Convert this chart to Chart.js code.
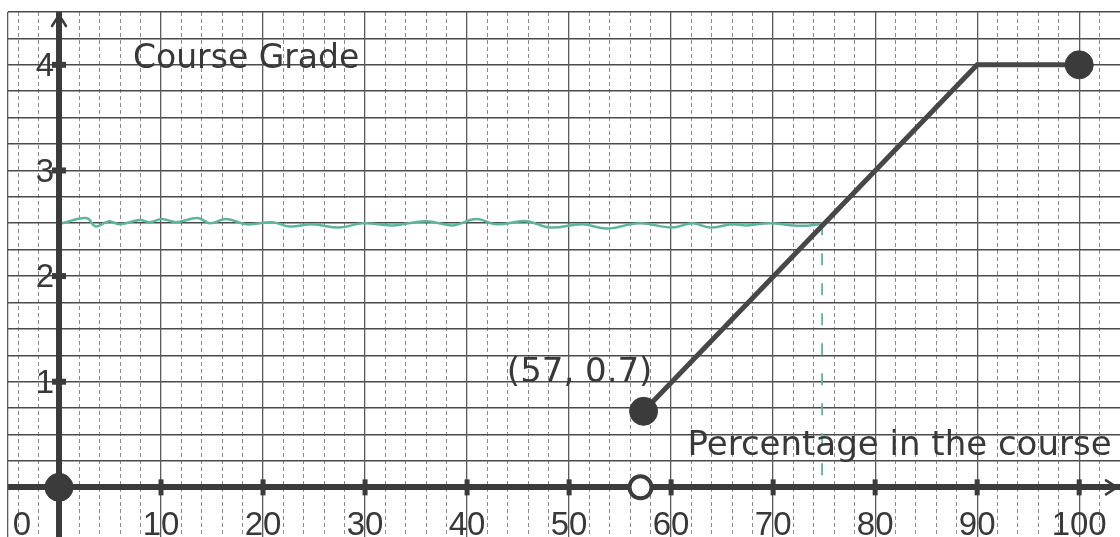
<!DOCTYPE html>
<html>
<head>
<meta charset="utf-8">
<script src="https://cdn.jsdelivr.net/npm/chart.js@4.4.0/dist/chart.umd.min.js"></script>
<style>
  html, body { margin: 0; padding: 0; background: #fff; }
  #wrap { width: 1120px; height: 537px; }
</style>
</head>
<body>
<div id="wrap"><canvas id="gradeChart"></canvas></div>
<script>
// --- data read from the graph paper ---
// hand drawn green line near grade 2.5
const greenX = [0.3, 2.7, 3.6, 4.9, 5.9, 7.9, 8.9, 10.1, 11.5, 13.6, 14.8, 16.4, 18.4, 20.9, 22.6, 24.8, 27.5, 29.8,
  32.7, 36.0, 38.6, 40.9, 42.9, 45.8, 48.1, 51.3, 53.7, 56.9, 60.1, 62.1, 63.8, 66.0, 67.4, 69.7, 71.9, 73.6, 74.9];
const greenY = [2.50, 2.55, 2.47, 2.52, 2.49, 2.53, 2.51, 2.54, 2.51, 2.55, 2.50, 2.54, 2.49, 2.51, 2.47, 2.49, 2.46, 2.50,
  2.48, 2.52, 2.48, 2.54, 2.49, 2.52, 2.46, 2.49, 2.45, 2.50, 2.46, 2.50, 2.46, 2.49, 2.48, 2.50, 2.48, 2.48, 2.50];
// green dashed drop line
const guideX = [74.8, 74.8];
const guideY = [2.5, -0.05];
// course grade function
const gradeX = [57.3, 90, 100];
const gradeY = [0.72, 4, 4];
const closedX = [0, 57.3, 100];
const closedY = [0, 0.72, 4];
const openX = [57];
const openY = [0];
// axis ticks and labels
const xTickValues = [10, 20, 30, 40, 50, 60, 70, 80, 90, 100];
const yTickValues = [1, 2, 3, 4];
const xLabelValues = [0, 10, 20, 30, 40, 50, 60, 70, 80, 90, 100];
const xTickLabels = ['0', '10', '20', '30', '40', '50', '60', '70', '80', '90', '100'];
const yTickLabels = ['1', '2', '3', '4'];
// paper grid
const xMajorGrid = [-5, 0, 10, 20, 30, 40, 50, 60, 70, 80, 90, 100];
const xMinorGrid = [-4, -2, 2, 4, 6, 8, 12, 14, 16, 18, 22, 24, 26, 28, 32, 34, 36, 38, 42, 44, 46, 48,
  52, 54, 56, 58, 62, 64, 66, 68, 72, 74, 76, 78, 82, 84, 86, 88, 92, 94, 96, 98, 102, 104];
const yGrid = [0, 0.25, 0.5, 0.75, 1, 1.25, 1.5, 1.75, 2, 2.25, 2.5, 2.75, 3, 3.25, 3.5, 3.75, 4, 4.25, 4.5];

const ink = '#3b3b3b';
const textInk = '#383838';
const green = '#5cb59d';

const pts = (xs, ys) => xs.map((v, i) => ({ x: v, y: ys[i] }));

// Desenha setas, rótulos e textos do papel
const paperDecor = {
  id: 'paperDecor',
  afterDraw(chart) {
    const { ctx, scales: { x, y } } = chart;
    ctx.save();

    // setas dos eixos
    ctx.strokeStyle = ink;
    ctx.lineWidth = 2.5;
    ctx.lineCap = 'round';
    const ax = x.getPixelForValue(0);
    const ay = y.getPixelForValue(0);
    const top = y.getPixelForValue(4.5);
    ctx.beginPath();
    ctx.moveTo(ax - 7, top + 14);
    ctx.lineTo(ax, top + 3);
    ctx.lineTo(ax + 7, top + 14);
    ctx.stroke();
    const right = chart.chartArea.right;
    ctx.beginPath();
    ctx.moveTo(right - 14, ay - 7);
    ctx.lineTo(right - 3, ay);
    ctx.lineTo(right - 14, ay + 7);
    ctx.stroke();

    // rótulos do eixo x
    ctx.fillStyle = textInk;
    ctx.font = '33px "Liberation Sans", Arial, sans-serif';
    ctx.textAlign = 'center';
    ctx.textBaseline = 'alphabetic';
    xLabelValues.forEach((v, i) => {
      let px = x.getPixelForValue(v);
      if (v === 0) px -= 37;
      ctx.fillText(xTickLabels[i], px, ay + 48);
    });

    // rótulos do eixo y
    ctx.textAlign = 'right';
    ctx.textBaseline = 'middle';
    yTickValues.forEach((v, i) => {
      ctx.fillText(yTickLabels[i], ax - 5, y.getPixelForValue(v) + 2);
    });

    // textos
    ctx.textAlign = 'left';
    ctx.textBaseline = 'alphabetic';
    ctx.font = '33px "DejaVu Sans", sans-serif';
    ctx.fillText('Course Grade', x.getPixelForValue(7.25), y.getPixelForValue(3.97));
    ctx.font = '34px "DejaVu Sans", sans-serif';
    ctx.fillText('Percentage in the course', x.getPixelForValue(61.6), y.getPixelForValue(0.306));
    ctx.fillText('(57, 0.7)', x.getPixelForValue(43.9), y.getPixelForValue(0.997));

    ctx.restore();
  }
};

document.addEventListener('DOMContentLoaded', () => {
  const canvas = document.getElementById('gradeChart');

  new Chart(canvas, {
    type: 'scatter',
    data: {
      datasets: [
        {
          // pontos fechados
          data: pts(closedX, closedY),
          pointRadius: 14,
          pointBackgroundColor: ink,
          pointBorderColor: ink,
          pointBorderWidth: 1,
          clip: false,
          order: 0
        },
        {
          // ponto aberto
          data: pts(openX, openY),
          pointRadius: 11,
          pointBackgroundColor: '#ffffff',
          pointBorderColor: ink,
          pointBorderWidth: 4,
          clip: false,
          order: 1
        },
        {
          data: pts(gradeX, gradeY),
          showLine: true,
          borderColor: '#474747',
          borderWidth: 5,
          pointRadius: 0,
          order: 2
        },
        {
          // marcas do eixo x
          data: xTickValues.map(v => ({ x: v, y: 0 })),
          pointStyle: 'line',
          rotation: 90,
          pointRadius: 8,
          pointBorderWidth: 5,
          pointBorderColor: ink,
          order: 3
        },
        {
          // marcas do eixo y
          data: yTickValues.map(v => ({ x: 0, y: v })),
          pointStyle: 'line',
          rotation: 0,
          pointRadius: 7,
          pointBorderWidth: 6,
          pointBorderColor: ink,
          order: 4
        },
        {
          data: pts(guideX, guideY),
          showLine: true,
          borderColor: green,
          borderWidth: 1.8,
          borderDash: [12, 18],
          pointRadius: 0,
          order: 5
        },
        {
          data: pts(greenX, greenY),
          showLine: true,
          borderColor: green,
          borderWidth: 2.5,
          tension: 0.4,
          pointRadius: 0,
          order: 6
        }
      ]
    },
    options: {
      responsive: true,
      maintainAspectRatio: false,
      animation: false,
      layout: { autoPadding: false, padding: { left: 8, top: 12, right: 0, bottom: 0 } },
      plugins: {
        legend: { display: false },
        tooltip: { enabled: false }
      },
      scales: {
        xMinor: {
          type: 'linear',
          axis: 'x',
          position: 'bottom',
          min: -5,
          max: 104,
          ticks: { display: false },
          border: { display: false, dash: [4, 3] },
          grid: { drawTicks: false, color: '#8a8a8a', lineWidth: 1, z: -3 },
          afterBuildTicks: s => { s.ticks = xMinorGrid.map(v => ({ value: v })); }
        },
        y: {
          type: 'linear',
          min: -0.47,
          max: 4.5,
          ticks: { display: false },
          border: { display: false },
          grid: {
            drawTicks: false,
            z: -2,
            color: c => c.tick.value === 0 ? ink : '#4a4a4a',
            lineWidth: c => c.tick.value === 0 ? 6 : 1.6
          },
          afterBuildTicks: s => { s.ticks = yGrid.map(v => ({ value: v })); }
        },
        x: {
          type: 'linear',
          position: 'bottom',
          min: -5,
          max: 104,
          ticks: { display: false },
          border: { display: false },
          grid: {
            drawTicks: false,
            z: -1,
            color: c => c.tick.value === 0 ? ink : '#5a5a5a',
            lineWidth: c => c.tick.value === 0 ? 6 : 1.3
          },
          afterBuildTicks: s => { s.ticks = xMajorGrid.map(v => ({ value: v })); }
        }
      }
    },
    plugins: [paperDecor]
  });
});
</script>
</body>
</html>
